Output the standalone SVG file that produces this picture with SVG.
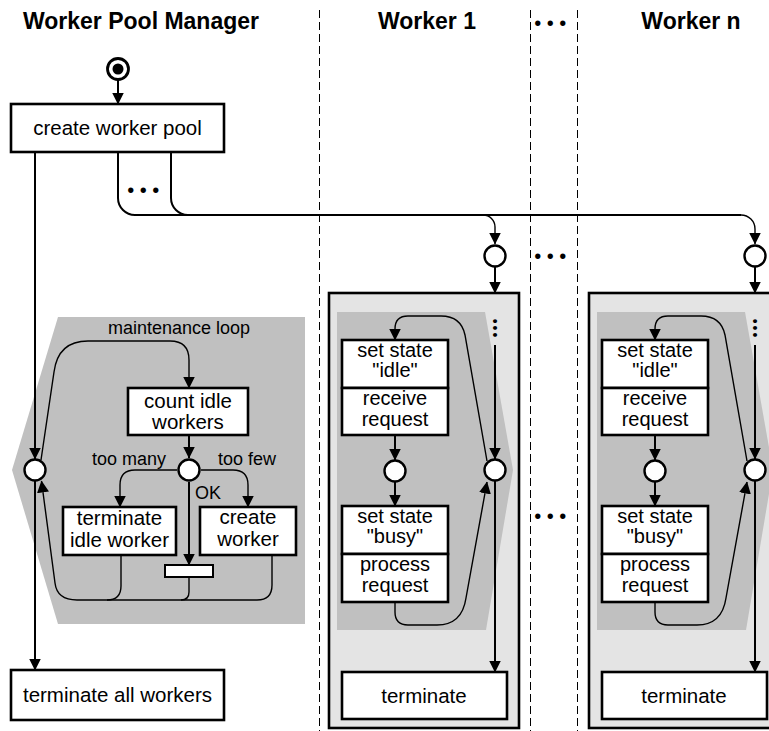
<svg xmlns="http://www.w3.org/2000/svg" width="769" height="731" viewBox="0 0 769 731">
  <style>
    text { font-family: "Liberation Sans", Arial, Helvetica, sans-serif; fill: #000; }
    .title { font-size: 23px; font-weight: bold; text-anchor: middle; }
    .node { font-size: 20.5px; text-anchor: middle; }
    .inner { font-size: 20px; text-anchor: middle; }
    .lbl { font-size: 18px; }
    .dots { font-size: 20px; text-anchor: middle; letter-spacing: 5.5px; }
    .vdots { font-size: 14px; text-anchor: middle; letter-spacing: 2px; }
    .box { fill: #fff; stroke: #000; stroke-width: 2.6; }
    .state { fill: #fff; stroke: #000; stroke-width: 2.4; }
    .lane { fill: none; stroke: #000; stroke-width: 1; stroke-dasharray: 8 4; }
    .flow { fill: none; stroke: #000; stroke-width: 2; }
    .thin { fill: none; stroke: #000; stroke-width: 1.4; }
    .arr { marker-end: url(#head); }
    .region { fill: #c0c0c0; }
    .container { fill: #e4e4e4; stroke: #000; stroke-width: 2.6; }
  </style>
  <defs>
    <marker id="head" viewBox="0 0 12 12" refX="11.5" refY="6" markerWidth="12" markerHeight="12" markerUnits="userSpaceOnUse" orient="auto">
      <path d="M0,0 L12,6 L0,12 z" fill="#000"/>
    </marker>
  </defs>

  <!-- swimlane separators -->
  <g id="lanes">
    <line class="lane" x1="319.5" y1="10" x2="319.5" y2="731"/>
    <line class="lane" x1="530.5" y1="10" x2="530.5" y2="731"/>
    <line class="lane" x1="577.5" y1="10" x2="577.5" y2="731"/>
  </g>

  <!-- lane headings -->
  <g id="headings">
    <text class="title" x="141" y="29">Worker Pool Manager</text>
    <text class="title" x="427" y="29">Worker 1</text>
    <text class="dots" x="553" y="30">•••</text>
    <text class="title" x="691" y="29">Worker n</text>
  </g>

  <!-- shaded loop regions and worker containers -->
  <g id="regions">
    <polygon class="region" points="58,317 305,317 305,624 58,624 12,470"/>
    <rect class="container" x="329" y="293" width="190" height="435"/>
    <polygon class="region" points="337,312 485,312 513,470 486,630 337,630"/>
    <g transform="translate(260,0)">
      <rect class="container" x="329" y="293" width="190" height="435"/>
      <polygon class="region" points="337,312 485,312 513,470 486,630 337,630"/>
    </g>
  </g>

  <!-- connectors -->
  <g id="connectors">
    <!-- manager -->
    <line class="flow arr" x1="118" y1="80" x2="118" y2="104"/>
    <line class="flow arr" x1="35" y1="152" x2="35" y2="459"/>
    <line class="flow arr" x1="35" y1="481" x2="35" y2="670"/>
    <path class="flow" d="M118,152 V198 A17,17 0 0 0 135,215 H741"/>
    <path class="flow" d="M171,152 V198 A17,17 0 0 0 188,215"/>
    <path class="thin arr" d="M483,215 A12,12 0 0 1 495,227 V244"/>
    <path class="thin arr" d="M741,215 A14,14 0 0 1 755,229 V244"/>
    <text class="dots" x="146" y="197">•••</text>

    <path class="thin arr" d="M41,460 L54,372 Q58,341 88,341 H170 Q189,341 189,360 V388"/>
    <line class="flow arr" x1="189" y1="435" x2="189" y2="458"/>
    <path class="thin arr" d="M177,470 H135 Q120,470 120,485 V507"/>
    <path class="thin arr" d="M201,470 H233 Q248,470 248,485 V507"/>
    <line class="flow arr" x1="189" y1="482" x2="189" y2="565"/>
    <path class="thin" d="M121,555 V586 Q121,600 107,600"/>
    <path class="thin" d="M189,577 V592 Q189,600 181,600"/>
    <path class="thin arr" d="M272,555 V585 Q272,600 257,600 H77 Q57,600 55,583 L41.5,481"/>

    <!-- worker 1 -->
    <g id="w1-flow">
      <line class="flow arr" x1="495" y1="267" x2="495" y2="293"/>
      <line class="flow arr" x1="395" y1="435" x2="395" y2="460"/>
      <line class="flow arr" x1="395" y1="482" x2="395" y2="506"/>
      <path class="thin arr" d="M487,461 L465,335 Q461,316 441,316 H408 Q395,316 395,329 V340"/>
      <path class="thin arr" d="M395,602 V612 Q395,625 408,625 H437 Q462,625 466,598 L487,482"/>
      <text class="vdots" transform="translate(495,329) rotate(90)" x="0" y="5">•••</text>
      <line class="flow arr" x1="495" y1="345" x2="495" y2="459"/>
      <line class="flow arr" x1="495" y1="481" x2="495" y2="672"/>
    </g>
    <!-- worker n -->
    <g id="wn-flow" transform="translate(260,0)">
      <line class="flow arr" x1="495" y1="267" x2="495" y2="293"/>
      <line class="flow arr" x1="395" y1="435" x2="395" y2="460"/>
      <line class="flow arr" x1="395" y1="482" x2="395" y2="506"/>
      <path class="thin arr" d="M487,461 L465,335 Q461,316 441,316 H408 Q395,316 395,329 V340"/>
      <path class="thin arr" d="M395,602 V612 Q395,625 408,625 H437 Q462,625 466,598 L487,482"/>
      <text class="vdots" transform="translate(495,329) rotate(90)" x="0" y="5">•••</text>
      <line class="flow arr" x1="495" y1="345" x2="495" y2="459"/>
      <line class="flow arr" x1="495" y1="481" x2="495" y2="672"/>
    </g>
    <text class="dots" x="553" y="263">•••</text>
    <text class="dots" x="553" y="523">•••</text>
  </g>

  <!-- manager nodes -->
  <g id="start">
    <circle cx="118" cy="69" r="10.5" fill="#fff" stroke="#000" stroke-width="2.8"/>
    <circle cx="118" cy="69" r="5.5" fill="#000"/>
  </g>
  <g id="create-pool">
    <rect class="box" x="11" y="104" width="213" height="48"/>
    <text class="node" x="117.5" y="135">create worker pool</text>
  </g>
  <g id="merge">
    <circle class="state" cx="35" cy="470" r="10.5"/>
  </g>
  <g id="loop-label">
    <text class="lbl" x="179" y="334" text-anchor="middle">maintenance loop</text>
  </g>
  <g id="count-idle">
    <rect class="box" x="128" y="388" width="120" height="47"/>
    <text class="node" x="188" y="408">count idle</text>
    <text class="node" x="188" y="429">workers</text>
  </g>
  <g id="decision">
    <circle class="state" cx="189" cy="470" r="10.5"/>
    <text class="lbl" x="166" y="465" text-anchor="end">too many</text>
    <text class="lbl" x="218" y="465">too few</text>
    <text class="lbl" x="195" y="499">OK</text>
  </g>
  <g id="terminate-idle">
    <rect class="box" x="63" y="507" width="113" height="48"/>
    <text class="node" x="119.5" y="525">terminate</text>
    <text class="node" x="119.5" y="547">idle worker</text>
  </g>
  <g id="create-worker">
    <rect class="box" x="200" y="507" width="96" height="48"/>
    <text class="node" x="248" y="524">create</text>
    <text class="node" x="248" y="546">worker</text>
  </g>
  <g id="join">
    <rect fill="#fff" stroke="#000" stroke-width="2" x="165" y="565" width="48" height="12"/>
  </g>
  <g id="terminate-all">
    <rect class="box" x="11" y="670" width="213" height="50"/>
    <text class="node" x="117.5" y="702">terminate all workers</text>
  </g>

  <!-- worker 1 nodes -->
  <g id="worker-1">
    <g id="w1-entry"><circle class="state" cx="495" cy="256" r="10.5"/></g>
    <g id="w1-idle">
      <rect class="box" x="342" y="340" width="106" height="48"/>
      <text class="inner" x="395" y="357">set state</text>
      <text class="inner" x="395" y="377">"idle"</text>
    </g>
    <g id="w1-receive">
      <rect class="box" x="342" y="388" width="106" height="47"/>
      <text class="inner" x="395" y="405">receive</text>
      <text class="inner" x="395" y="426">request</text>
    </g>
    <g id="w1-got-request"><circle class="state" cx="395" cy="471" r="10.5"/></g>
    <g id="w1-busy">
      <rect class="box" x="342" y="506" width="106" height="48"/>
      <text class="inner" x="395" y="523">set state</text>
      <text class="inner" x="395" y="543">"busy"</text>
    </g>
    <g id="w1-process">
      <rect class="box" x="342" y="554" width="106" height="48"/>
      <text class="inner" x="395" y="571">process</text>
      <text class="inner" x="395" y="592">request</text>
    </g>
    <g id="w1-merge"><circle class="state" cx="495" cy="470" r="10.5"/></g>
    <g id="w1-terminate">
      <rect class="box" x="342" y="672" width="165" height="47"/>
      <text class="node" x="424" y="703">terminate</text>
    </g>
  </g>

  <!-- worker n nodes -->
  <g id="worker-n" transform="translate(260,0)">
    <g id="wn-entry"><circle class="state" cx="495" cy="256" r="10.5"/></g>
    <g id="wn-idle">
      <rect class="box" x="342" y="340" width="106" height="48"/>
      <text class="inner" x="395" y="357">set state</text>
      <text class="inner" x="395" y="377">"idle"</text>
    </g>
    <g id="wn-receive">
      <rect class="box" x="342" y="388" width="106" height="47"/>
      <text class="inner" x="395" y="405">receive</text>
      <text class="inner" x="395" y="426">request</text>
    </g>
    <g id="wn-got-request"><circle class="state" cx="395" cy="471" r="10.5"/></g>
    <g id="wn-busy">
      <rect class="box" x="342" y="506" width="106" height="48"/>
      <text class="inner" x="395" y="523">set state</text>
      <text class="inner" x="395" y="543">"busy"</text>
    </g>
    <g id="wn-process">
      <rect class="box" x="342" y="554" width="106" height="48"/>
      <text class="inner" x="395" y="571">process</text>
      <text class="inner" x="395" y="592">request</text>
    </g>
    <g id="wn-merge"><circle class="state" cx="495" cy="470" r="10.5"/></g>
    <g id="wn-terminate">
      <rect class="box" x="342" y="672" width="165" height="47"/>
      <text class="node" x="424" y="703">terminate</text>
    </g>
  </g>
</svg>
